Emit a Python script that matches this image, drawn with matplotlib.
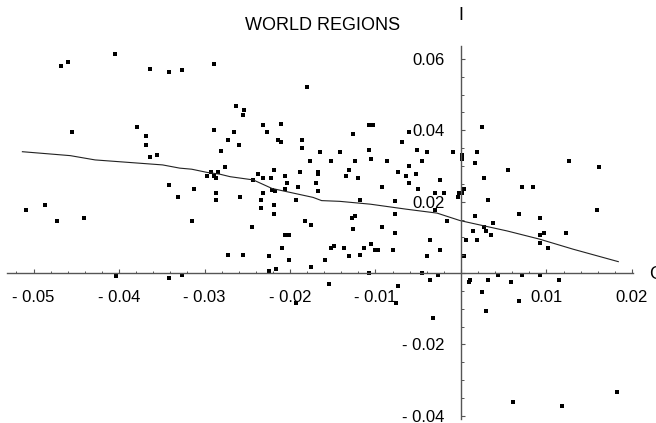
import matplotlib
matplotlib.use('Agg')
import matplotlib.pyplot as plt
from matplotlib.ticker import FixedLocator, FuncFormatter

plt.rcParams['font.family'] = ['Liberation Sans', 'DejaVu Sans']

# scatter of world regions
pts_x = [-0.0405, -0.0460, -0.0468, -0.0364, -0.0341, -0.0326, -0.0289, -0.0455, -0.0379, -0.0369,
         -0.0369, -0.0364, -0.0356, -0.0289, -0.0273, -0.0281, -0.0276, -0.0292, -0.0297, -0.0289,
         -0.0284, -0.0286, -0.0341, -0.0312, -0.0331, -0.0286, -0.0286, -0.0509, -0.0486, -0.0473,
         -0.0441, -0.0315, -0.0272, -0.0403, -0.0341, -0.0326, -0.0180, -0.0263, -0.0254, -0.0255,
         -0.0266, -0.0260, -0.0232, -0.0227, -0.0211, -0.0214, -0.0211, -0.0186, -0.0186, -0.0177,
         -0.0165, -0.0152, -0.0141, -0.0126, -0.0124, -0.0108, -0.0103, -0.0108, -0.0105, -0.0087,
         -0.0069, -0.0061, -0.0061, -0.0051, -0.0046, -0.0040, -0.0009, 0.0025, 0.0001, 0.0019,
         0.0001, 0.0016, 0.0126, 0.0162, -0.0219, -0.0237, -0.0232, -0.0222, -0.0243, -0.0206,
         -0.0188, -0.0167, -0.0167, -0.0203, -0.0170, -0.0191, -0.0206, -0.0131, -0.0134, -0.0121,
         -0.0074, -0.0064, -0.0061, -0.0053, -0.0092, -0.0050, -0.0025, -0.0030, -0.0020, -0.0004,
         -0.0002, 0.0001, -0.0221, -0.0218, -0.0232, -0.0258, -0.0234, -0.0234, -0.0219, -0.0219,
         -0.0193, -0.0167, -0.0118, -0.0077, -0.0077, -0.0077, -0.0183, -0.0175, -0.0245, -0.0128,
         -0.0124, -0.0126, -0.0092, -0.0030, -0.0016, -0.0206, -0.0201, -0.0036, -0.0209, -0.0201,
         -0.0224, -0.0255, -0.0152, -0.0149, -0.0137, -0.0113, -0.0105, -0.0100, -0.0097, -0.0079,
         -0.0131, -0.0118, -0.0159, -0.0175, -0.0216, -0.0224, -0.0040, -0.0025, -0.0108, -0.0046,
         -0.0036, -0.0027, -0.0154, -0.0074, -0.0193, -0.0076, 0.0055, 0.0027, 0.0071, 0.0084,
         0.0004, 0.0032, 0.0068, 0.0092, 0.0159, 0.0016, 0.0037, 0.0027, 0.0014, 0.0029,
         0.0035, 0.0006, 0.0019, 0.0092, 0.0097, 0.0092, 0.0123, 0.0102, 0.0004, 0.0011,
         0.0009, 0.0032, 0.0043, 0.0058, 0.0071, 0.0092, 0.0115, 0.0025, 0.0068, -0.0033,
         0.0029, 0.0061, 0.0118, 0.0183]
pts_y = [0.0615, 0.0591, 0.0580, 0.0573, 0.0562, 0.0568, 0.0585, 0.0396, 0.0408, 0.0385,
         0.0360, 0.0326, 0.0331, 0.0401, 0.0372, 0.0343, 0.0296, 0.0282, 0.0272, 0.0272,
         0.0282, 0.0266, 0.0248, 0.0236, 0.0212, 0.0225, 0.0206, 0.0176, 0.0190, 0.0146,
         0.0153, 0.0146, 0.0052, -0.0008, -0.0013, -0.0006, 0.0520, 0.0467, 0.0457, 0.0443,
         0.0396, 0.0359, 0.0414, 0.0396, 0.0419, 0.0372, 0.0366, 0.0372, 0.0349, 0.0313,
         0.0338, 0.0313, 0.0338, 0.0389, 0.0313, 0.0414, 0.0414, 0.0344, 0.0319, 0.0313,
         0.0366, 0.0396, 0.0301, 0.0344, 0.0313, 0.0338, 0.0338, 0.0408, 0.0331, 0.0338,
         0.0319, 0.0307, 0.0313, 0.0296, 0.0289, 0.0277, 0.0266, 0.0266, 0.0260, 0.0272,
         0.0282, 0.0282, 0.0277, 0.0253, 0.0253, 0.0242, 0.0235, 0.0289, 0.0272, 0.0266,
         0.0282, 0.0272, 0.0253, 0.0277, 0.0242, 0.0235, 0.0260, 0.0225, 0.0225, 0.0213,
         0.0225, 0.0225, 0.0233, 0.0229, 0.0224, 0.0212, 0.0206, 0.0182, 0.0190, 0.0165,
         0.0206, 0.0230, 0.0206, 0.0201, 0.0165, 0.0112, 0.0146, 0.0134, 0.0129, 0.0153,
         0.0159, 0.0123, 0.0129, 0.0176, 0.0146, 0.0106, 0.0106, 0.0094, 0.0071, 0.0036,
         0.0047, 0.0052, 0.0071, 0.0077, 0.0071, 0.0071, 0.0082, 0.0065, 0.0065, 0.0065,
         0.0047, 0.0052, 0.0036, 0.0017, 0.0012, 0.0006, 0.0047, 0.0065, -0.0001, -0.0001,
         -0.0018, -0.0006, -0.0030, -0.0036, -0.0084, -0.0084, 0.0289, 0.0266, 0.0242, 0.0242,
         0.0236, 0.0206, 0.0165, 0.0153, 0.0176, 0.0159, 0.0141, 0.0129, 0.0118, 0.0118,
         0.0106, 0.0094, 0.0094, 0.0106, 0.0112, 0.0083, 0.0112, 0.0071, 0.0047, -0.0018,
         -0.0024, -0.0018, -0.0006, -0.0024, -0.0006, -0.0006, -0.0018, -0.0054, -0.0078, -0.0125,
         -0.0107, -0.0362, -0.0373, -0.0332]

# smoothed fit line
fit_x = [-0.0513, -0.0457, -0.0428, -0.0349, -0.0329, -0.0315, -0.0297, -0.0282, -0.0270, -0.0243,
         -0.0221, -0.0173, -0.0163, -0.0142, -0.0106, -0.0064, -0.0028, -0.0001, 0.0054, 0.0092,
         0.0131, 0.0184]
fit_y = [0.0340, 0.0329, 0.0317, 0.0303, 0.0294, 0.0291, 0.0282, 0.0277, 0.0270, 0.0261,
         0.0237, 0.0212, 0.0203, 0.0201, 0.0193, 0.0179, 0.0168, 0.0147, 0.0118, 0.0095,
         0.0067, 0.0032]

x_ticks = [-0.05, -0.04, -0.03, -0.02, -0.01, 0.0, 0.01, 0.02]
y_ticks = [-0.04, -0.02, 0.0, 0.02, 0.04, 0.06]


def fmt(v, pos):
    # old style labels: "- 0.05", no label at the origin
    if abs(v) < 1e-9:
        return ''
    if v < 0:
        return f'- {abs(v):.2f}'
    return f'{v:.2f}'


fig = plt.figure(figsize=(6.56, 4.23), dpi=100)
ax = fig.add_axes([0, 0, 1, 1])
ax.set_xlim(-0.05392, 0.02281)
ax.set_ylim(-0.04200, 0.07650)
ax.patch.set_alpha(0)

ax.plot(fit_x, fit_y, color='#222222', lw=0.8)
ax.scatter(pts_x, pts_y, s=5, marker='s', color='black', lw=0)

axis_col = '#555555'
for side in ['top', 'right']:
    ax.spines[side].set_visible(False)
ax.spines['bottom'].set_position(('data', 0))
ax.spines['left'].set_position(('data', 0))
ax.spines['bottom'].set_bounds(-0.0531, 0.0201)
ax.spines['left'].set_bounds(-0.0409, 0.0636)
for side in ['bottom', 'left']:
    ax.spines[side].set_color(axis_col)
    ax.spines[side].set_linewidth(1.0)

ax.xaxis.set_major_locator(FixedLocator(x_ticks))
ax.xaxis.set_minor_locator(FixedLocator([i * 0.002 for i in range(-26, 11)]))
ax.yaxis.set_major_locator(FixedLocator(y_ticks))
ax.yaxis.set_minor_locator(FixedLocator([i * 0.005 for i in range(-8, 13)]))
ax.xaxis.set_major_formatter(FuncFormatter(fmt))
ax.yaxis.set_major_formatter(FuncFormatter(fmt))

ax.tick_params(axis='both', which='major', direction='in', length=3.2, width=0.8,
               color=axis_col, labelsize=12, pad=12)
ax.tick_params(axis='both', which='minor', direction='in', length=1.8, width=0.7, color=axis_col)

fig.text(323 / 656, 1 - 26 / 423, 'WORLD REGIONS', ha='center', va='center', fontsize=13)
fig.text(461 / 656, 1 - 16 / 423, 'I', ha='center', va='center', fontsize=13)
fig.text(649 / 656, 1 - 274 / 423, 'G', ha='left', va='center', fontsize=13)

fig.savefig('out.png', dpi=100)
